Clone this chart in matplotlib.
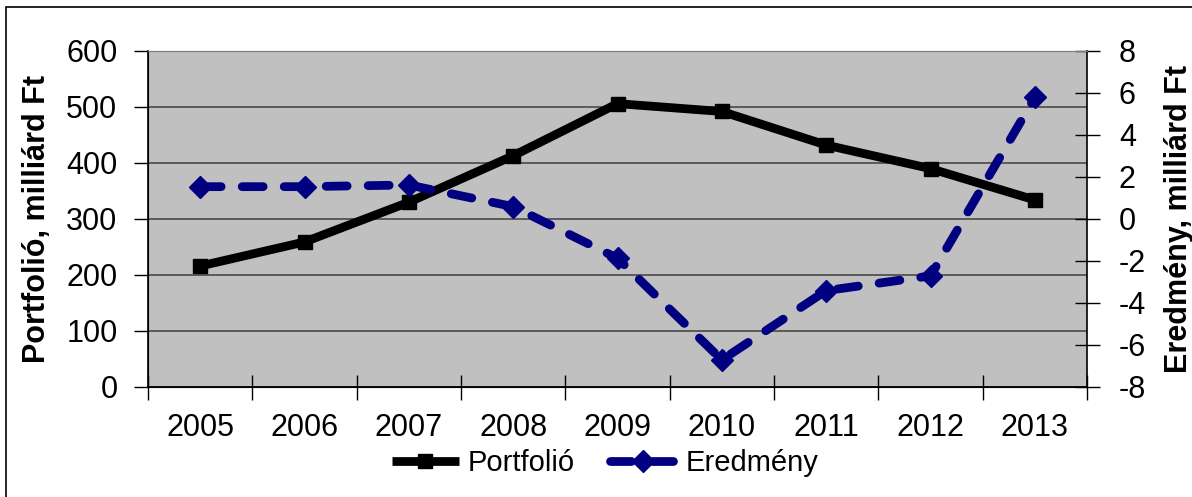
import matplotlib
matplotlib.use("Agg")
import matplotlib.pyplot as plt
from matplotlib.patches import Rectangle
import numpy as np

years = ["2005", "2006", "2007", "2008", "2009", "2010", "2011", "2012", "2013"]
portfolio = [216, 259, 330, 413, 506, 492, 432, 390, 334]
eredmeny = [1.54, 1.54, 1.62, 0.59, -1.87, -6.71, -3.41, -2.71, 5.79]

plt.rcParams['font.family'] = ['Liberation Sans', 'DejaVu Sans']
plt.rcParams['axes.unicode_minus'] = False

fig = plt.figure(figsize=(11.92, 4.97), dpi=100)
W, H = 1192, 497
ax = fig.add_axes([148 / W, 1 - 387 / H, (1087 - 148) / W, (387 - 51) / H])
ax2 = ax.twinx()

x = np.arange(1, len(years) + 1)
ax.set_facecolor('#C0C0C0')
ax.set_xlim(0.5, len(years) + 0.5)
ax.set_ylim(0, 600)
ax2.set_ylim(-8, 8)

ax.set_yticks(np.arange(0, 601, 100))
ax2.set_yticks(np.arange(-8, 9, 2))
ax.grid(axis='y', color='#404040', linewidth=1.1)
ax.set_axisbelow(True)

ax.set_xticks(x)
ax.set_xticklabels(years)
ax.set_xticks(np.arange(0.5, len(years) + 1, 1), minor=True)
ax.tick_params(axis='x', which='major', length=0, pad=19, labelsize=22)
ax.tick_params(axis='x', which='minor', length=18, direction='inout', width=1)
ax.tick_params(axis='y', length=10, direction='out', width=1, labelsize=22, pad=12)
ax2.tick_params(axis='y', length=18, direction='inout', width=1, labelsize=22, pad=14)

for s in ['left', 'bottom']:
    ax.spines[s].set_color('black')
    ax.spines[s].set_linewidth(1.2)
ax.spines['top'].set_color('#808080')
ax2.spines['top'].set_color('#808080')
ax2.spines['right'].set_color('black')
ax2.spines['right'].set_linewidth(1.2)
ax.spines['right'].set_visible(False)

l1, = ax.plot(x, portfolio, color='black', linewidth=6.3, marker='s', markersize=10,
              solid_capstyle='butt', label='Portfolió', zorder=3)
l2, = ax2.plot(x, eredmeny, color='#000080', linewidth=6.3, linestyle=(0, (2.4, 2.4)),
               dash_capstyle='round', marker='D', markersize=11, label='Eredmény', zorder=4)

ax.set_ylabel('Portfolió, milliárd Ft', fontsize=22, fontweight='bold', labelpad=10)
ax2.set_ylabel('Eredmény, milliárd Ft', fontsize=22, fontweight='bold', labelpad=13)

fig.legend(handles=[l1, l2], loc='center', bbox_to_anchor=(605 / W, 1 - 463 / H), ncol=2,
           frameon=False, fontsize=21, handlelength=2.3, columnspacing=1.2, handletextpad=0.3)

fig.patches.append(Rectangle((6 / W, -0.02), 1.2, 1 - 7 / H + 0.02, transform=fig.transFigure,
                             fill=False, edgecolor='black', linewidth=1.2))

fig.savefig('out.png', dpi=100)
